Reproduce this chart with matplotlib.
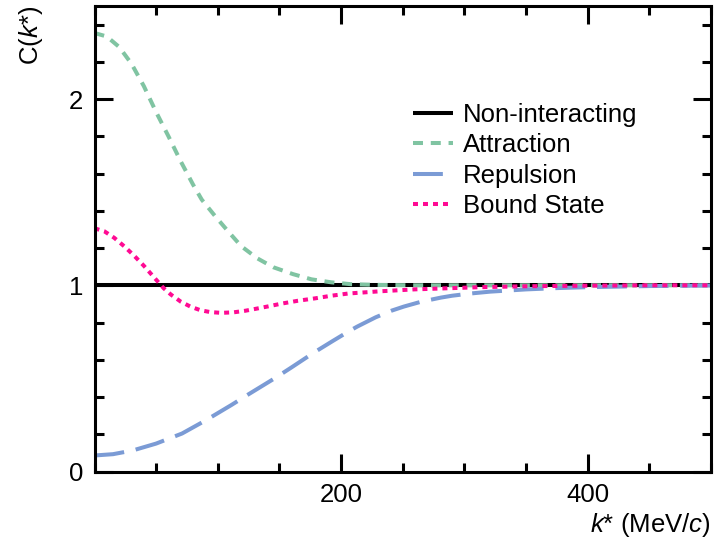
import matplotlib
matplotlib.use("Agg")
import matplotlib.pyplot as plt
from matplotlib.ticker import MultipleLocator, FixedLocator

plt.rcParams['font.family'] = ['Liberation Sans', 'DejaVu Sans']
plt.rcParams['mathtext.fontset'] = 'custom'
plt.rcParams['mathtext.rm'] = 'Liberation Sans'
plt.rcParams['mathtext.it'] = 'Liberation Sans:italic'
plt.rcParams['lines.scale_dashes'] = False

# ---- data ----
k_nonint = [0, 500]
c_nonint = [1.0, 1.0]

k_att = [0, 10, 20, 30, 40, 50, 60, 70, 80, 87, 98, 109, 119, 132, 145,
         161, 176, 192, 208, 230, 260, 300, 350, 400, 450, 500]
c_att = [2.355, 2.336, 2.28, 2.19, 2.07, 1.93, 1.80, 1.665, 1.54, 1.46,
         1.37, 1.285, 1.21, 1.145, 1.097, 1.06, 1.032, 1.016, 1.006, 1.002,
         1.0, 1.0, 1.0, 1.0, 1.0, 1.0]

k_rep = [0, 15, 31, 50, 71, 90, 111, 125, 146, 160, 173, 180, 193, 206, 213,
         228, 241, 251, 265, 281, 290, 305, 321, 350, 375, 400, 450, 500]
c_rep = [0.086, 0.093, 0.113, 0.15, 0.204, 0.274, 0.357, 0.415, 0.50, 0.56,
         0.617, 0.647, 0.70, 0.752, 0.778, 0.828, 0.864, 0.886, 0.912, 0.934,
         0.944, 0.956, 0.966, 0.978, 0.985, 0.99, 0.996, 0.999]

k_bs = [0, 8, 16, 24, 32, 40, 48, 52, 56, 62, 70, 78, 86, 94, 103, 113, 122,
        131, 141, 152, 165, 179, 192, 206, 232, 259, 286, 313, 350, 400, 450, 500]
c_bs = [1.306, 1.29, 1.255, 1.21, 1.16, 1.105, 1.045, 1.015, 0.985, 0.95,
        0.912, 0.885, 0.866, 0.856, 0.852, 0.855, 0.863, 0.874, 0.887, 0.902,
        0.917, 0.93, 0.944, 0.956, 0.968, 0.978, 0.984, 0.99, 0.995, 0.998,
        1.0, 1.0]

labels = ["Non-interacting", "Attraction", "Repulsion", "Bound State"]
colors = ["#000000", "#80c4a2", "#7b9bd5", "#ff0a93"]

# ---- figure ----
fig = plt.figure(figsize=(7.14, 5.42), dpi=100)
ax = fig.add_axes([94.5 / 714, 70.5 / 542, (711 - 94.5) / 714, (471.5 - 6) / 542])

lw = 2.9
ax.plot(k_nonint, c_nonint, color=colors[0], lw=lw, solid_capstyle='butt', label=labels[0])
ax.plot(k_att, c_att, color=colors[1], lw=lw, dashes=(7.2, 5.6), label=labels[1])
ax.plot(k_rep, c_rep, color=colors[2], lw=lw, dashes=(21.5, 8.5), label=labels[2])
ax.plot(k_bs, c_bs, color=colors[3], lw=lw, dashes=(3.6, 3.6), label=labels[3])

ax.set_xlim(0, 500)
ax.set_ylim(0, 2.5)

ax.xaxis.set_major_locator(FixedLocator([200, 400]))
ax.xaxis.set_minor_locator(MultipleLocator(50))
ax.yaxis.set_major_locator(FixedLocator([0, 1, 2]))
ax.yaxis.set_minor_locator(MultipleLocator(0.2))

fs = 18.5
for s in ax.spines.values():
    s.set_linewidth(2.2)
ax.tick_params(which='both', direction='in', top=True, right=True, width=2.2,
               labelsize=fs)
ax.tick_params(which='major', length=13, pad=8)
ax.tick_params(which='minor', length=6.5)

ax.set_xlabel(r'$k$* (MeV/$c$)', fontsize=fs, loc='right')
ax.xaxis.set_label_coords(1.0, -0.085)
ax.set_ylabel(r'C($k$*)', fontsize=fs, loc='top')
ax.yaxis.set_label_coords(-0.08, 1.0)

leg = ax.legend(loc='upper left', bbox_to_anchor=((413 - 94.5) / 616.5, 1 - (103 - 6) / 465.5),
                frameon=False, fontsize=fs, handlelength=1.55, handletextpad=0.4,
                labelspacing=0.25, borderpad=0, borderaxespad=0)

fig.savefig("out.png", dpi=100)
